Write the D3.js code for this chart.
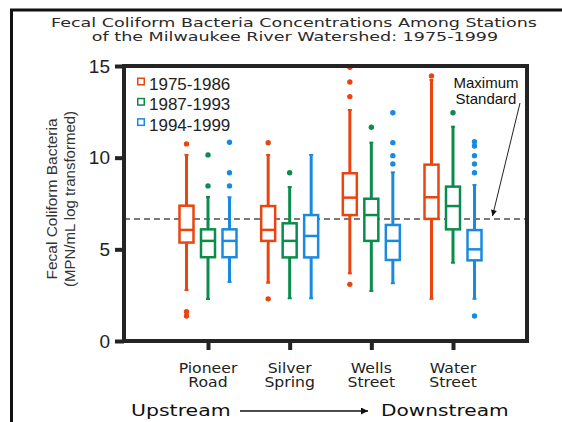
<!DOCTYPE html>
<html>
<head>
<meta charset="utf-8">
<script src="https://cdn.jsdelivr.net/npm/d3@7"></script>
<style>
  body { margin: 0; background: #fff; }
  svg { display: block; }
</style>
</head>
<body>
<div id="chart"></div>
<script>
// stations along the river, upstream to downstream
const stations = ["Pioneer Road", "Silver Spring", "Wells Street", "Water Street"];
const stationLines = [["Pioneer", "Road"], ["Silver", "Spring"], ["Wells", "Street"], ["Water", "Street"]];
const periods = ["1975-1986", "1987-1993", "1994-1999"];
const periodColors = ["#ea4410", "#0a8c4c", "#1a8ae0"];

// box stats per station: [low whisker, q1, median, q3, high whisker]
const stats1975 = [[2.78, 5.37, 6.06, 7.38, 10.15], [3.18, 5.46, 6.06, 7.36, 10.15], [3.69, 6.87, 7.82, 9.15, 12.6], [2.3, 6.66, 7.84, 9.62, 14.24]];
const stats1987 = [[2.29, 4.57, 5.46, 6.09, 7.86], [2.33, 4.56, 5.46, 6.42, 8.4], [2.73, 5.46, 6.87, 7.76, 10.82], [4.27, 6.09, 7.36, 8.42, 11.69]];
const stats1994 = [[3.22, 4.57, 5.46, 6.09, 7.84], [2.33, 4.56, 5.73, 6.87, 10.15], [3.15, 4.42, 5.46, 6.33, 9.2], [2.3, 4.4, 5.0, 6.05, 8.51]];

// outliers per station
const out1975 = [[10.75, 1.6, 1.36], [10.82, 2.3], [14.93, 14.13, 13.33, 3.09], [14.46]];
const out1987 = [[10.15, 8.46], [9.18], [11.66], [12.45]];
const out1994 = [[10.84, 9.18, 8.46], [], [12.45, 10.82, 10.11, 9.66], [10.87, 10.64, 10.11, 9.66, 9.18, 1.36]];

const yTicks = [0, 5, 10, 15];
const maxStandard = 6.65;

const allStats = [stats1975, stats1987, stats1994];
const allOut = [out1975, out1987, out1994];

// flat rows for the boxes
let boxes = [];
let dots = [];
periods.forEach(function(p, pi) {
    stations.forEach(function(s, si) {
        const st = allStats[pi][si];
        boxes.push({ station: s, period: p, lo: st[0], q1: st[1], med: st[2], q3: st[3], hi: st[4] });
        allOut[pi][si].forEach(function(v) {
            dots.push({ station: s, period: p, value: v });
        });
    });
});

// constants
const width = 562;
const height = 422;
const plotLeft = 124;
const plotRight = 527;
const plotTop = 66;
const plotBottom = 341;
const dark = "#242424";
const geneva = "'DejaVu Sans', Verdana, sans-serif";
const arial = "'Liberation Sans', Arial, sans-serif";

const svg = d3.select("#chart").append("svg")
    .attr("width", width)
    .attr("height", height);

// widen text the way the original font looks
function stretch(sel, k) {
    sel.each(function() {
        const w = this.getComputedTextLength();
        d3.select(this).attr("textLength", w * k).attr("lengthAdjust", "spacingAndGlyphs");
    });
}

// scales
const y = d3.scaleLinear().domain([0, 15]).range([plotBottom, plotTop]);
const x = d3.scalePoint().domain(stations).range([208, 453]);
const xOff = d3.scalePoint().domain(periods).range([-21.5, 21.5]);
const color = d3.scaleOrdinal().domain(periods).range(periodColors);

// outer figure border
svg.append("path")
    .attr("d", "M11.5," + height + "V10H" + width)
    .attr("fill", "none")
    .attr("stroke", "#111")
    .attr("stroke-width", 3);

// title
const title1 = svg.append("text")
    .attr("x", 294).attr("y", 26.7)
    .attr("text-anchor", "middle")
    .style("font-family", geneva).style("font-size", "12px").attr("fill", "#2a2a2a")
    .text("Fecal Coliform Bacteria Concentrations Among Stations");
const title2 = svg.append("text")
    .attr("x", 295).attr("y", 40.7)
    .attr("text-anchor", "middle")
    .style("font-family", geneva).style("font-size", "12px").attr("fill", "#2a2a2a")
    .text("of the Milwaukee River Watershed: 1975-1999");
stretch(title1, 1.46);
stretch(title2, 1.46);

// max standard dashed line
svg.append("line")
    .attr("x1", plotLeft).attr("x2", plotRight)
    .attr("y1", y(maxStandard)).attr("y2", y(maxStandard))
    .attr("stroke", "#7a7a7a")
    .attr("stroke-width", 2)
    .attr("stroke-dasharray", "6,4");

// boxes
const g = svg.append("g");
const bw = 14;

const box = g.selectAll(".box")
    .data(boxes).enter()
    .append("g")
    .attr("class", "box")
    .attr("transform", function(d) {
        return "translate(" + (x(d.station) + xOff(d.period)) + ",0)";
    });

box.append("line")
    .attr("x1", 0).attr("x2", 0)
    .attr("y1", function(d) { return y(d.hi); })
    .attr("y2", function(d) { return y(d.q3); })
    .attr("stroke", function(d) { return color(d.period); })
    .attr("stroke-width", 3);

box.append("line")
    .attr("x1", 0).attr("x2", 0)
    .attr("y1", function(d) { return y(d.q1); })
    .attr("y2", function(d) { return y(d.lo); })
    .attr("stroke", function(d) { return color(d.period); })
    .attr("stroke-width", 3);

// whisker caps
["lo", "hi"].forEach(function(k) {
    box.append("line")
        .attr("x1", -2).attr("x2", 2)
        .attr("y1", function(d) { return y(d[k]); })
        .attr("y2", function(d) { return y(d[k]); })
        .attr("stroke", function(d) { return color(d.period); })
        .attr("stroke-width", 2);
});

box.append("rect")
    .attr("x", -bw / 2)
    .attr("width", bw)
    .attr("y", function(d) { return y(d.q3); })
    .attr("height", function(d) { return y(d.q1) - y(d.q3); })
    .attr("fill", "#fff")
    .attr("stroke", function(d) { return color(d.period); })
    .attr("stroke-width", 2.5);

box.append("line")
    .attr("x1", -bw / 2).attr("x2", bw / 2)
    .attr("y1", function(d) { return y(d.med); })
    .attr("y2", function(d) { return y(d.med); })
    .attr("stroke", function(d) { return color(d.period); })
    .attr("stroke-width", 2.5);

// outliers
g.selectAll(".dot")
    .data(dots).enter()
    .append("circle")
    .attr("class", "dot")
    .attr("r", 2.7)
    .attr("cx", function(d) { return x(d.station) + xOff(d.period); })
    .attr("cy", function(d) { return y(d.value); })
    .attr("fill", function(d) { return color(d.period); });

// frame
svg.append("rect")
    .attr("x", plotLeft).attr("y", plotTop)
    .attr("width", plotRight - plotLeft)
    .attr("height", plotBottom - plotTop)
    .attr("fill", "none")
    .attr("stroke", dark)
    .attr("stroke-width", 4);

// y axis
const yAxis = svg.append("g")
    .attr("transform", "translate(" + plotLeft + ",0)")
    .call(d3.axisLeft(y).tickValues(yTicks).tickSize(9).tickPadding(5));
yAxis.select(".domain").remove();
yAxis.selectAll(".tick line").attr("stroke", dark).attr("stroke-width", 4);
yAxis.selectAll(".tick text")
    .attr("fill", "#222")
    .style("font-family", arial)
    .style("font-size", "19px");

// x axis
const xAxis = svg.append("g")
    .attr("transform", "translate(0," + plotBottom + ")")
    .call(d3.axisBottom(x).tickSize(9).tickFormat(""));
xAxis.select(".domain").remove();
xAxis.selectAll(".tick line").attr("stroke", dark).attr("stroke-width", 4);

// station labels
stations.forEach(function(s, i) {
    stationLines[i].forEach(function(line, j) {
        const t = svg.append("text")
            .attr("x", x(s))
            .attr("y", 372.5 + j * 14.5)
            .attr("text-anchor", "middle")
            .style("font-family", geneva).style("font-size", "13.5px").attr("fill", "#222")
            .text(line);
        stretch(t, 1.16);
    });
});

// y axis title
const yTitle = svg.append("g").attr("transform", "translate(0,199) rotate(-90)");
yTitle.append("text")
    .attr("x", 0).attr("y", 57)
    .attr("text-anchor", "middle")
    .style("font-family", arial).style("font-size", "15.5px").attr("fill", "#333")
    .text("Fecal Coliform Bacteria");
yTitle.append("text")
    .attr("x", 0).attr("y", 75)
    .attr("text-anchor", "middle")
    .style("font-family", arial).style("font-size", "15px").attr("fill", "#333")
    .text("(MPN/mL log transformed)");

// legend
const legend = svg.append("g").attr("transform", "translate(137,77.5)");
periods.forEach(function(p, i) {
    const row = legend.append("g").attr("transform", "translate(0," + (i * 20.3) + ")");
    row.append("rect")
        .attr("x", 0.75).attr("y", 0.75)
        .attr("width", 6.5).attr("height", 6.5)
        .attr("fill", "#fff")
        .attr("stroke", color(p))
        .attr("stroke-width", 1.5);
    row.append("text")
        .attr("x", 12).attr("y", 12.5)
        .style("font-family", arial).style("font-size", "17px").attr("fill", "#222")
        .text(p);
});

// maximum standard annotation
svg.append("defs").selectAll("marker")
    .data(["small", "big"]).enter()
    .append("marker")
    .attr("id", function(d) { return "arrow-" + d; })
    .attr("viewBox", "0 0 10 10")
    .attr("refX", 10).attr("refY", 5)
    .attr("markerUnits", "userSpaceOnUse")
    .attr("markerWidth", function(d) { return d === "small" ? 7 : 9; })
    .attr("markerHeight", function(d) { return d === "small" ? 6 : 7; })
    .attr("orient", "auto")
    .append("path")
    .attr("d", "M0,0L10,5L0,10Z")
    .attr("fill", "#111");

svg.append("text")
    .attr("x", 486).attr("y", 88)
    .attr("text-anchor", "middle")
    .style("font-family", arial).style("font-size", "15px").attr("fill", "#111")
    .text("Maximum");
svg.append("text")
    .attr("x", 486).attr("y", 103.5)
    .attr("text-anchor", "middle")
    .style("font-family", arial).style("font-size", "15px").attr("fill", "#111")
    .text("Standard");

svg.append("line")
    .attr("x1", 520).attr("y1", 103)
    .attr("x2", 492.5).attr("y2", y(maxStandard) - 3)
    .attr("stroke", "#222")
    .attr("stroke-width", 1)
    .attr("marker-end", "url(#arrow-small)");

// upstream -> downstream
const up = svg.append("text")
    .attr("x", 131).attr("y", 416)
    .style("font-family", geneva).style("font-size", "15.5px").attr("fill", "#111")
    .text("Upstream");
stretch(up, 1.32);
const down = svg.append("text")
    .attr("x", 381).attr("y", 416)
    .style("font-family", geneva).style("font-size", "15.5px").attr("fill", "#111")
    .text("Downstream");
stretch(down, 1.3);

svg.append("line")
    .attr("x1", 240).attr("y1", 411)
    .attr("x2", 368).attr("y2", 411)
    .attr("stroke", "#111")
    .attr("stroke-width", 1.5)
    .attr("marker-end", "url(#arrow-big)");
</script>
</body>
</html>
